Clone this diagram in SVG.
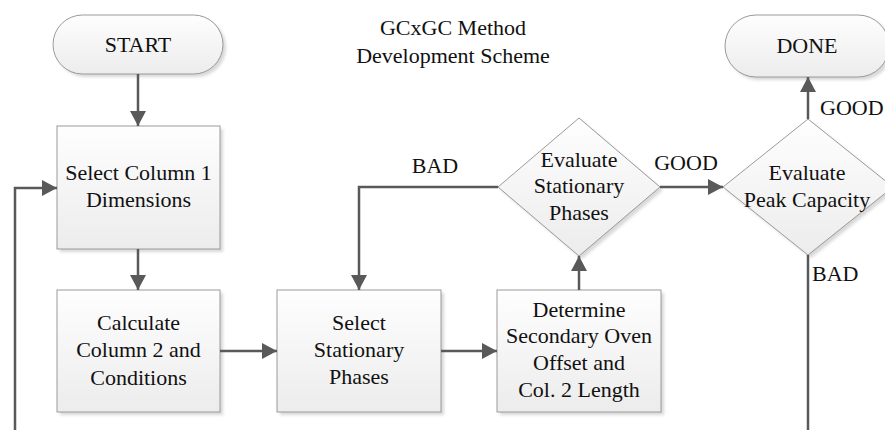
<svg xmlns="http://www.w3.org/2000/svg" width="885" height="430" viewBox="0 0 885 430">
<defs>
<linearGradient id="g" x1="0" y1="0" x2="0" y2="1">
<stop offset="0" stop-color="#fefefe"/>
<stop offset="1" stop-color="#ececec"/>
</linearGradient>
<filter id="sh" x="-10%" y="-10%" width="130%" height="130%">
<feGaussianBlur stdDeviation="1.5"/>
</filter>
<marker id="arr" markerUnits="userSpaceOnUse" markerWidth="16" markerHeight="16" refX="15" refY="8" orient="auto">
<path d="M0,0 L15,8 L0,16 Z" fill="#595959"/>
</marker>
<style>
.shape{fill:url(#g);stroke:#9a9a9a;stroke-width:1}
.shadow{fill:#cfcfcf;filter:url(#sh);opacity:0.8}
text{font-family:'Liberation Serif','Times New Roman',Times,serif;font-size:22px;fill:#111}
.t{text-anchor:middle}
.c{fill:none;stroke:#595959;stroke-width:2.5}
</style>
</defs>
<rect width="885" height="430" fill="#fff"/>

<g id="title" font-family="Liberation Serif, serif">
<text class="t" x="453" y="35">GCxGC Method</text>
<text class="t" x="453" y="63">Development Scheme</text>
</g>

<g id="start" font-family="Liberation Serif, serif">
<rect class="shadow" x="56" y="18" width="170" height="59" rx="29.5"/>
<rect class="shape" x="53" y="15" width="170" height="59" rx="29.5"/>
<text class="t" x="138" y="52">START</text>
</g>

<g id="done" font-family="Liberation Serif, serif">
<rect class="shadow" x="728" y="18" width="164" height="62" rx="31"/>
<rect class="shape" x="725" y="15" width="164" height="62" rx="31"/>
<text class="t" x="807" y="53">DONE</text>
</g>

<g id="col1" font-family="Liberation Serif, serif">
<rect class="shadow" x="60" y="129" width="163" height="123"/>
<rect class="shape" x="57" y="126" width="163" height="123"/>
<text class="t" x="138.5" y="180">Select Column 1</text>
<text class="t" x="138.5" y="207">Dimensions</text>
</g>

<g id="calc" font-family="Liberation Serif, serif">
<rect class="shadow" x="60" y="293" width="163" height="122"/>
<rect class="shape" x="57" y="290" width="163" height="122"/>
<text class="t" x="138.5" y="330">Calculate</text>
<text class="t" x="138.5" y="357">Column 2 and</text>
<text class="t" x="138.5" y="385">Conditions</text>
</g>

<g id="selstat" font-family="Liberation Serif, serif">
<rect class="shadow" x="280" y="293" width="164" height="122"/>
<rect class="shape" x="277" y="290" width="164" height="122"/>
<text class="t" x="359" y="330">Select</text>
<text class="t" x="359" y="357">Stationary</text>
<text class="t" x="359" y="384">Phases</text>
</g>

<g id="determine" font-family="Liberation Serif, serif">
<rect class="shadow" x="500" y="293" width="164" height="122"/>
<rect class="shape" x="497" y="290" width="164" height="122"/>
<text class="t" x="579" y="317">Determine</text>
<text class="t" x="579" y="343">Secondary Oven</text>
<text class="t" x="579" y="370">Offset and</text>
<text class="t" x="579" y="397">Col. 2 Length</text>
</g>

<g id="evalstat" font-family="Liberation Serif, serif">
<polygon class="shadow" points="582,121 663,190 582,259 501,190"/>
<polygon class="shape" points="579,118 660,187 579,256 498,187"/>
<text class="t" x="579" y="167">Evaluate</text>
<text class="t" x="579" y="193">Stationary</text>
<text class="t" x="579" y="220">Phases</text>
</g>

<g id="evalpeak" font-family="Liberation Serif, serif">
<polygon class="shadow" points="811,122 896,190 811,258 726,190"/>
<polygon class="shape" points="808,119 893,187 808,255 723,187"/>
<text class="t" x="807" y="180">Evaluate</text>
<text class="t" x="807" y="207">Peak Capacity</text>
</g>

<g id="connectors">
<path class="c" d="M138,74 V126" marker-end="url(#arr)"/>
<path class="c" d="M138,249 V290" marker-end="url(#arr)"/>
<path class="c" d="M220,351 H277" marker-end="url(#arr)"/>
<path class="c" d="M441,351 H497" marker-end="url(#arr)"/>
<path class="c" d="M579,290 V256" marker-end="url(#arr)"/>
<path class="c" d="M498,187 H359 V290" marker-end="url(#arr)"/>
<path class="c" d="M660,187 H723" marker-end="url(#arr)"/>
<path class="c" d="M808,119 V77" marker-end="url(#arr)"/>
<path class="c" d="M808,255 V430"/>
<path class="c" d="M15,430 V188 H57" marker-end="url(#arr)"/>
</g>

<g id="labels" font-family="Liberation Serif, serif">
<text class="t" x="435" y="173">BAD</text>
<text class="t" x="686" y="170">GOOD</text>
<text x="820" y="115">GOOD</text>
<text x="812" y="281">BAD</text>
</g>
</svg>
